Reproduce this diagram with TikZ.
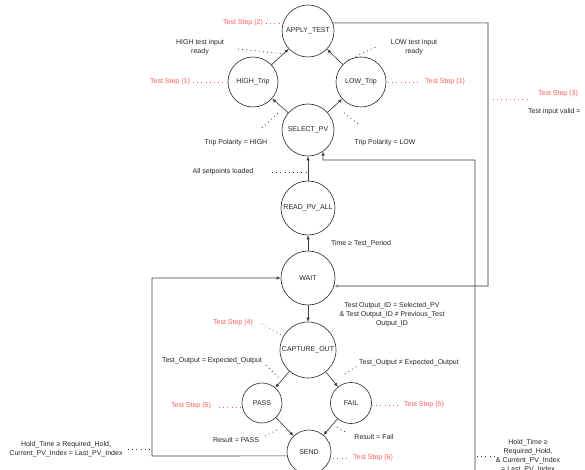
\documentclass[tikz,border=0pt]{standalone}
\usepackage{fontspec}
\setmainfont{Liberation Sans}
\usetikzlibrary{arrows.meta}
\definecolor{stepred}{RGB}{255,90,90}

\begin{document}
\begin{tikzpicture}[x=1pt, y=-1pt, font=\fontsize{7}{9}\selectfont,
  state/.style={draw=black!80, line width=0.65pt, circle, inner sep=0pt, text=black!85},
  flow/.style={draw=black!75, line width=0.65pt, -{Latex[length=4pt,width=3.5pt]}},
  note/.style={text=black!85, align=center, inner sep=0pt},
  stepnote/.style={text=stepred, inner sep=0pt},
  hint/.style={draw=black!80, line width=0.8pt, dash pattern=on 0.8pt off 3.4pt},
  stephint/.style={hint, draw=stepred}]
\useasboundingbox (0,0) rectangle (585,470);
\clip (0,0) rectangle (585,470);
\fill[white] (0,0) rectangle (585,470);

% states
\node[state, minimum size=52pt] (apply) at (308,31) {APPLY\_TEST};
\node[state, minimum size=50pt] (hightrip) at (253,82) {HIGH\_Trip};
\node[state, minimum size=50pt] (lowtrip) at (361,82) {LOW\_Trip};
\node[state, minimum size=52pt] (select) at (308,130) {SELECT\_PV};
\node[state, minimum size=54pt] (readpv) at (308,208) {READ\_PV\_ALL};
\node[state, minimum size=54pt] (wait) at (308,278) {WAIT};
\node[state, minimum size=56pt] (capture) at (308,350) {CAPTURE\_OUT};
\node[state, minimum size=40pt] (pass) at (262,403) {PASS};
\node[state, minimum size=41pt] (fail) at (351,403) {FAIL};
\node[state, minimum size=44pt] (send) at (309,452) {SEND};

% transitions
\draw[flow] (hightrip) -- (apply);
\draw[flow] (lowtrip) -- (apply);
\draw[flow] (select) -- (hightrip);
\draw[flow] (select) -- (lowtrip);
\draw[flow] (readpv) -- (select);
\draw[flow] (wait) -- (readpv);
\draw[flow] (wait) -- (capture);
\draw[flow] (capture) -- (pass);
\draw[flow] (capture) -- (fail);
\draw[flow] (pass) -- (send);
\draw[flow] (fail) -- (send);

% loops
\coordinate (loopR) at (488,286);
\coordinate (loopB) at (475,475);
\coordinate (selR) at (323,160);
\coordinate (loopL) at (152,456);
\draw[flow, draw=black!45, line width=1.2pt] (apply.18) -| (loopR) -- (wait.-17);
\draw[flow] (loopB) |- (selR) -- (select.-55);
\draw[flow] (send.190) -- (loopL) |- (wait.west);

% guard labels
\node[note] (highready) at (200,47.5) {HIGH test input\\ready};
\node[note] (lowready) at (414,47.5) {LOW test input\\ready};
\node[note] (polhigh) at (236,143) {Trip Polarity = HIGH};
\node[note] (pollow) at (385,143) {Trip Polarity = LOW};
\node[note] (loaded) at (223,172) {All setpoints loaded};
\node[note] (period) at (361,244) {Time ≥ Test\_Period};
\node[note] (outid) at (392,314.5) {Test Output\_ID = Selected\_PV\\\& Test Output\_ID ≠ Previous\_Test\\Output\_ID};
\node[note] (expeq) at (212,361) {Test\_Output = Expected\_Output};
\node[note] (expne) at (409,363) {Test\_Output ≠ Expected\_Output};
\node[note] (respass) at (236,440) {Result = PASS};
\node[note] (resfail) at (374,437) {Result = Fail};
\node[note] (holdL) at (66,449) {Hold\_Time ≥ Required\_Hold,\\Current\_PV\_Index = Last\_PV\_Index};
\node[note] (holdR) at (528,456) {Hold\_Time ≥\\Required\_Hold,\\\& Current\_PV\_Index\\= Last\_PV\_Index};
\node[note, anchor=west] (valid) at (528,112) {Test input valid =};

% test steps
\node[stepnote] (step2) at (243,23) {Test Step (2)};
\node[stepnote] (step1L) at (170,82) {Test Step (1)};
\node[stepnote] (step1R) at (445,82) {Test Step (1)};
\node[stepnote] (step3) at (558,94) {Test Step (3)};
\node[stepnote] (step4) at (233,323) {Test Step (4)};
\node[stepnote] (step5L) at (191,406) {Test Step (5)};
\node[stepnote] (step5R) at (424,405) {Test Step (5)};
\node[stepnote] (step6) at (373,458) {Test Step (6)};

% leaders
\draw[hint] (238,49) -- (285,54);
\draw[hint] (348,60) -- (378,46);
\draw[hint] (262,128) -- (279,112);
\draw[hint] (344,113) -- (358,124);
\draw[hint] (272,172) -- (306,172);
\draw[hint] (266,365) -- (279,378);
\draw[hint] (345,374) -- (357,366);
\draw[hint] (265,436) -- (277,430);
\draw[hint] (337,427) -- (347,433);
\draw[hint] (128,449) -- (151,449);
\draw[hint] (477,456) -- (497,456);
\draw[stephint] (266,23) -- (284,23);
\draw[stephint] (193,82) -- (228,82);
\draw[stephint] (388,82) -- (420,82);
\draw[stephint] (493,99) -- (528,99);
\draw[stephint] (262,324) -- (283,336);
\draw[stephint] (219,407) -- (242,407);
\draw[stephint] (372,405) -- (398,405);
\draw[stephint] (329,458) -- (350,458);
\end{tikzpicture}
\end{document}
